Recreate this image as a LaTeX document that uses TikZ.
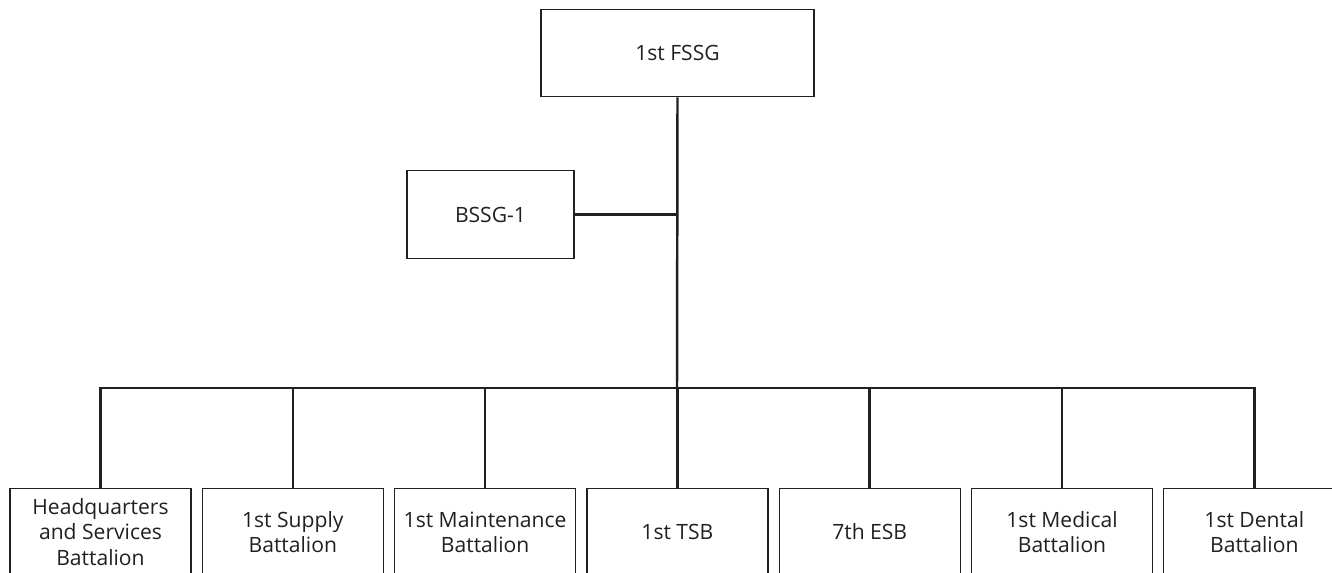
\documentclass[tikz,border=0pt]{standalone}
\usepackage{fontspec}
\setmainfont{Open Sans}
\usetikzlibrary{positioning}
\definecolor{chartline}{RGB}{35, 31, 32}

\begin{document}
\begin{tikzpicture}[
                    x=0.02cm, y=-0.02cm,
                    unit/.style={draw=chartline, line width=0.7pt, align=center, inner sep=0pt, minimum width=3.62cm, minimum height=1.75cm, text=chartline, font=\fontsize{12}{14.3}\selectfont},
                    link/.style={draw=chartline, line width=1.4pt}
                ]
                \useasboundingbox (0,0) rectangle (1332,572);
                \clip (0,0) rectangle (1332,572);

                % --- Group level ---
                \node[unit, minimum width=5.46cm] (fssg) at (677.5,53) {1st FSSG};
                \node[unit, minimum width=3.34cm] (bssg) at (490.5,214.5) {BSSG-1};

                % --- Battalions ---
                \foreach \name/\txt [count=\i from 0] in {hqsvc/{Headquarters\\and Services\\Battalion}, supply/{1st Supply\\Battalion}, maint/{1st Maintenance\\Battalion}, tsb/{1st TSB}, esb/{7th ESB}, medical/{1st Medical\\Battalion}, dental/{1st Dental\\Battalion}}
                    \node[unit] (\name) at ({100.5+192.3*\i},532) {\txt};

                \coordinate (bus) at (677,388);

                \draw[link] (fssg.south) -- (bus);
                \draw[link] (bssg.east) -- (bssg.east -| bus);
                \draw[link] (hqsvc.north) |- (bus) -| (dental.north);
                \foreach \name in {supply, maint, tsb, esb, medical}
                    \draw[link] (\name.north) -- (\name.north |- bus);

                \end{tikzpicture}
\end{document}
